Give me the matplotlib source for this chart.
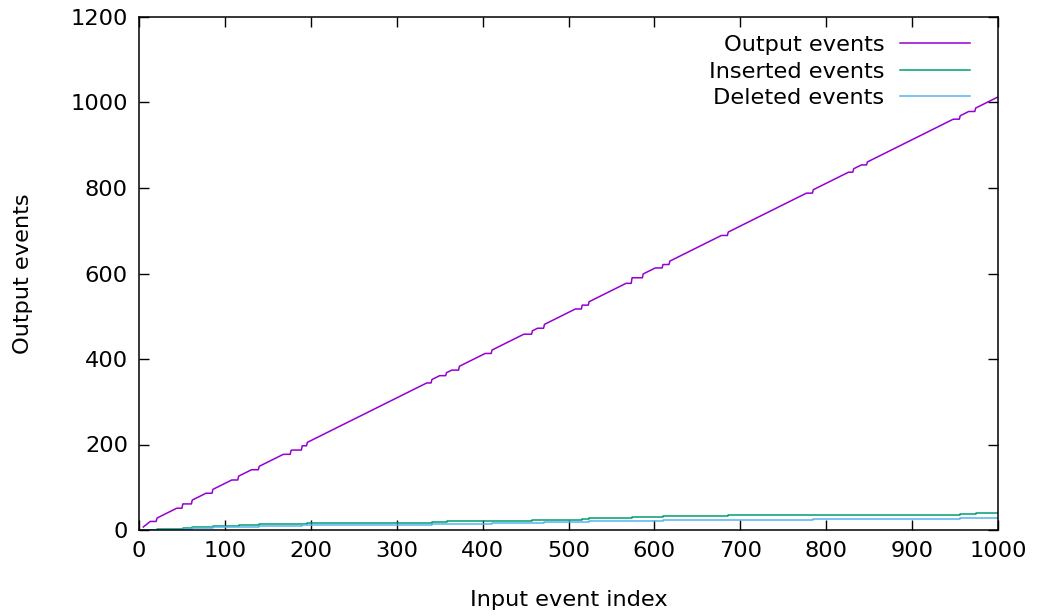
import matplotlib
matplotlib.use("Agg")
import matplotlib.pyplot as plt

# Output events (breakpoints of the cumulative line)
out_x = [5, 13, 20, 21, 44, 50, 51, 61, 62, 78, 85, 86, 108, 115, 116, 131, 139, 140,
         168, 176, 177, 178, 189, 190, 195, 196, 335, 340, 341, 350, 357, 358, 364, 372, 373,
         403, 410, 411, 448, 457, 458, 464, 471, 472, 508, 515, 516, 523, 524,
         567, 573, 574, 586, 587, 601, 609, 610, 617, 618, 678, 685, 686,
         777, 784, 785, 826, 831, 832, 841, 847, 848, 948, 955, 956, 966, 973, 974, 1000]
out_y = [7, 20, 20, 28, 51, 51, 61, 61, 70, 86, 86, 95, 117, 117, 126, 141, 141, 149,
         177, 177, 186, 187, 187, 197, 197, 205, 344, 344, 352, 361, 361, 368, 374, 374, 383,
         413, 413, 421, 458, 458, 466, 472, 472, 481, 517, 517, 526, 526, 534,
         577, 577, 590, 590, 599, 613, 613, 621, 621, 629, 689, 689, 697,
         788, 788, 796, 837, 837, 845, 854, 854, 861, 961, 961, 969, 979, 979, 987, 1013]

# Inserted / deleted events (cumulative step functions)
step_x = [0, 21, 51, 62, 86, 116, 140, 177, 190, 196, 341, 358, 373, 411, 458, 472,
          516, 524, 574, 587, 610, 618, 686, 785, 832, 848, 956, 974, 1000]
ins_y = [0, 3, 5, 8, 9, 11, 13, 14, 15, 16, 18, 20, 22, 22, 23, 24,
         26, 28, 30, 31, 32, 33, 34, 35, 36, 36, 38, 40, 40]
del_y = [0, 1, 3, 5, 6, 8, 9, 10, 11, 12, 13, 14, 15, 16, 17, 18,
         19, 20, 21, 22, 23, 23, 24, 25, 26, 26, 27, 29, 29]

x_ticks = list(range(0, 1001, 100))
y_ticks = list(range(0, 1201, 200))

plt.rcParams['font.family'] = ['DejaVu Sans']
FS = 16.2

fig = plt.figure(figsize=(10.39, 6.16), dpi=100)
W, H = 1039, 616
left, right, top, bottom = 139, 998, 17, 530
ax = fig.add_axes([left / W, 1 - bottom / H, (right - left) / W, (bottom - top) / H])

ax.plot(out_x, out_y, color='#9400d3', lw=1.1, label='Output events')
ax.plot(step_x, ins_y, color='#009e73', lw=1.1, drawstyle='steps-post', label='Inserted events')
ax.plot(step_x, del_y, color='#56b4e9', lw=1.1, drawstyle='steps-post', label='Deleted events')

ax.set_xlim(0, 1000)
ax.set_ylim(0, 1200)
ax.set_xticks(x_ticks)
ax.set_yticks(y_ticks)
ax.tick_params(direction='in', length=7, width=1.0, top=True, right=True,
               labelsize=FS, pad=8, colors='black')
for s in ax.spines.values():
    s.set_linewidth(1.1)

ax.set_xlabel('Input event index', fontsize=FS, labelpad=21)
ax.set_ylabel('Output events', fontsize=FS, labelpad=27)

leg = ax.legend(loc='upper right', bbox_to_anchor=((970 - left) / (right - left), 1 - 18 / (bottom - top)),
                borderaxespad=0, borderpad=0, frameon=False, markerfirst=False, handlelength=3.1,
                handletextpad=0.7, labelspacing=0.29, fontsize=FS)
for t in leg.get_texts():
    t.set_ha('right')

fig.savefig('out.png', dpi=100)
